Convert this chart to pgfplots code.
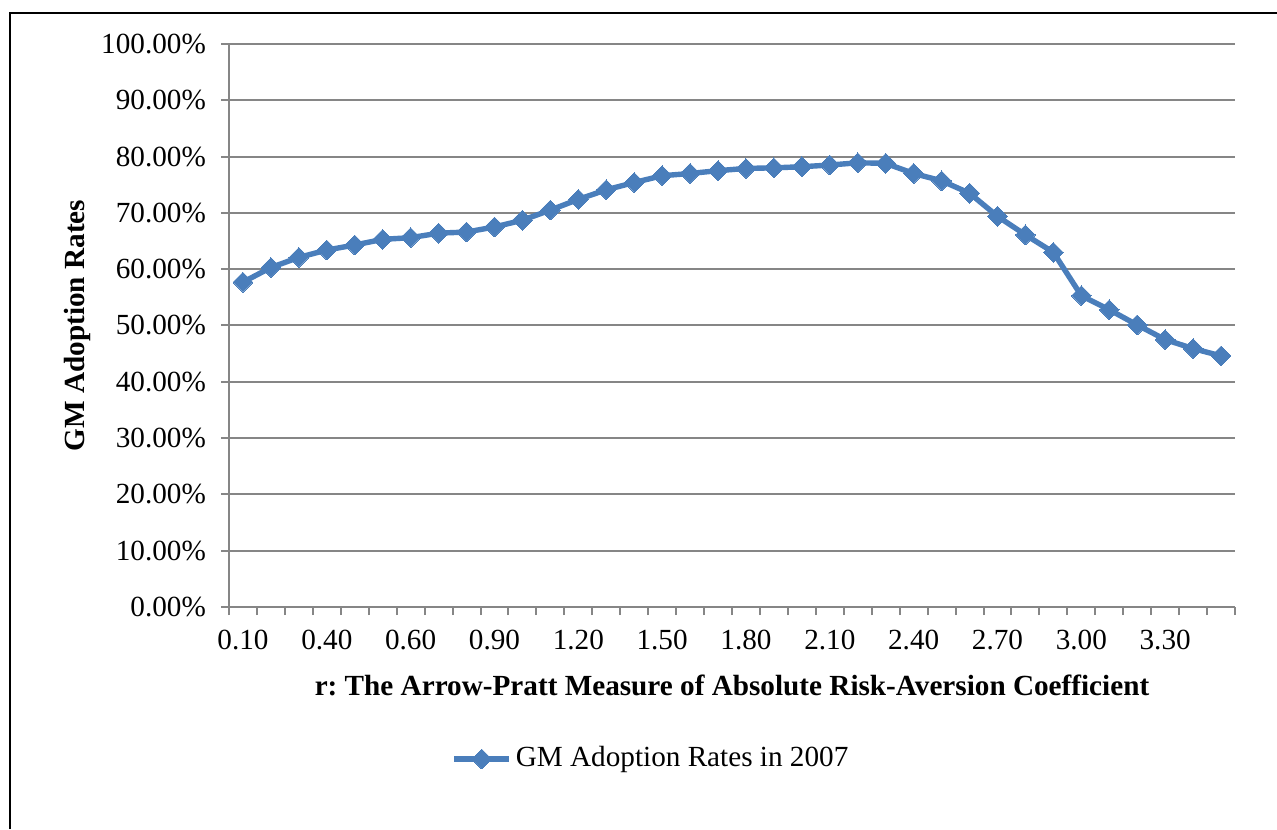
\documentclass[border=0pt]{standalone}
\usepackage{pgfplots}
\pgfplotsset{compat=1.18}
\usepackage{fontspec}
\setmainfont{Liberation Serif}
\definecolor{gridgray}{RGB}{134,134,134}
\definecolor{xlblue}{RGB}{74,126,187}
\begin{document}
\frenchspacing
\fontsize{14.6}{17}\selectfont
\begin{tikzpicture}
\useasboundingbox (0,0) rectangle (638.5pt,414.5pt);
\draw[black,line width=1.1pt] (5pt,0pt) -- (5pt,408pt) -- (638.5pt,408pt);
\begin{axis}[
  at={(114.5pt,111pt)}, anchor=south west,
  scale only axis, width=503pt, height=281.5pt,
  xmin=-0.5, xmax=35.5, ymin=0, ymax=100,
  axis x line=bottom, axis y line=left,
  axis line style={gridgray, line width=1pt, -},
  every tick/.style={gridgray, line width=1pt},
  tick align=outside,
  xtick={0,3,...,33},
  xticklabels={0.10,0.40,0.60,0.90,1.20,1.50,1.80,2.10,2.40,2.70,3.00,3.30},
  major x tick style={draw=none},
  minor xtick={-0.5,0.5,...,35.5},
  minor tick length=4pt,
  major tick length=4pt,
  ytick={0,10,...,100},
  ymajorgrids,
  grid style={gridgray, line width=1pt},
  /pgf/number format/assume math mode=true,
  yticklabel={\pgfmathprintnumber[fixed,fixed zerofill,precision=2]{\tick}\%},
  yticklabel style={font=\fontsize{14.6}{17}\selectfont, xshift=-2.5pt},
  xticklabel style={font=\fontsize{14.6}{17}\selectfont, yshift=-2.5pt},
  xlabel={\textbf{r: The Arrow-Pratt Measure of Absolute Risk-Aversion Coefficient}},
  ylabel={\textbf{GM Adoption Rates}},
  xlabel style={at={(axis description cs:0.5,-0.1385)}, anchor=center, font=\fontsize{14.6}{17}\selectfont},
  ylabel style={at={(axis description cs:-0.151,0.5)}, anchor=center, rotate=0, font=\fontsize{14.6}{17}\selectfont},
  legend style={at={(axis description cs:0.2207,-0.270)}, anchor=west, draw=none, fill=none, inner sep=0pt,
    font=\fontsize{14.6}{17}\selectfont, cells={anchor=west}},
  legend image code/.code={
    \draw[#1, mark=none] (0pt,0pt) -- (27.5pt,0pt);
    \draw[#1, only marks] plot coordinates {(13.75pt,0pt)};
  },
  clip=false,
]
\addplot[color=xlblue, line width=2.7pt, mark=square*, mark size=3.5pt,
  mark options={rotate=45, solid, line width=0pt, fill=xlblue}]
coordinates {
(0,57.7)(1,60.3)(2,62.1)(3,63.4)(4,64.3)(5,65.3)(6,65.6)(7,66.4)(8,66.6)(9,67.5)
(10,68.7)(11,70.5)(12,72.4)(13,74.1)(14,75.4)(15,76.6)(16,77.0)(17,77.5)(18,77.9)(19,78.0)
(20,78.2)(21,78.5)(22,78.9)(23,78.8)(24,77.0)(25,75.7)(26,73.5)(27,69.4)(28,66.1)(29,63.0)
(30,55.3)(31,52.8)(32,50.1)(33,47.5)(34,45.9)(35,44.6)
};
\addlegendentry{GM Adoption Rates in 2007}
\end{axis}
\end{tikzpicture}
\end{document}
